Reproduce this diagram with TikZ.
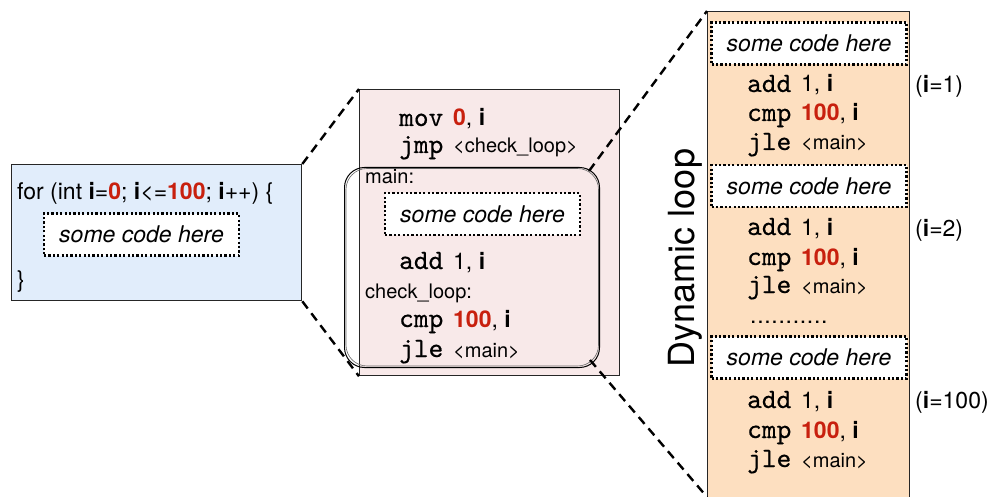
\documentclass[tikz,border=0pt]{standalone}
\usepackage{fontspec}
\setsansfont{TeX Gyre Heros}
\newfontfamily\mnemfont{lmmono10-regular}[Extension=.otf, FakeBold=0.5]
\usetikzlibrary{positioning}

\definecolor{srcblue}{RGB}{225,237,251}
\definecolor{asmpink}{RGB}{248,233,233}
\definecolor{dynpeach}{RGB}{253,223,192}
\definecolor{numred}{RGB}{200,32,14}

\newcommand{\bi}{\textbf{i}}
\newcommand{\rnum}[1]{\textcolor{numred}{\textbf{#1}}}
\newcommand{\mnem}[1]{{\fontsize{28}{30}\mnemfont #1}\hspace{3.5pt}}
\newcommand{\lbl}[1]{{\fontsize{20}{22}\selectfont #1}}
\newcommand{\dotrow}{\foreach \k in {1,...,11}{.\kern0.7pt}}

\begin{document}
\begin{tikzpicture}[%
      x=1pt, y=-1pt,
      every node/.style={font=\sffamily\fontsize{23}{27}\selectfont, inner sep=0pt},
      box/.style={draw=black!85, line width=1.3pt, anchor=north west},
      codebox/.style={draw, line width=2.2pt, dash pattern=on 2.2pt off 2.2pt, fill=white,
        minimum width=195pt, minimum height=42pt, font=\sffamily\itshape\fontsize{23}{27}\selectfont},
      line/.style={anchor=base west},
      zoomline/.style={line width=2.4pt, dash pattern=on 9pt off 6pt},
      ]
      \clip (0,0) rectangle (995,497);

      \node[box, fill=srcblue, minimum width=290pt, minimum height=136pt] (src) at (11,164) {};
      \node[box, fill=asmpink, minimum width=260pt, minimum height=286pt] (asm) at (359,89) {};
      \node[box, fill=dynpeach, minimum width=202pt, minimum height=510pt] (dyn) at (707,11) {};

      \node[draw, line width=1pt, rounded corners=20pt, anchor=north west,
        minimum width=255pt, minimum height=200pt] (loop) at (344,167) {};
      \draw[black!60, line width=0.6pt, rounded corners=21pt]
        ([shift={(2,1.5)}]loop.north west) rectangle ([shift={(-1.5,-2)}]loop.south east);

      \coordinate (loopTR) at (589,171);
      \coordinate (loopBR) at (590,360);
      \draw[zoomline] (src.north east) -- (asm.north west);
      \draw[zoomline] (src.south east) -- (asm.south west);
      \draw[zoomline] (loopTR) -- (dyn.north west);
      \draw[zoomline] (loopBR) -- (707,497);

      % source loop
      \node[line] (forline) at (17,200) {for (int \bi=\rnum{0}; \bi<=\rnum{100}; \bi++) \{};
      \node[codebox] (codeA) at (141.5,234.5) {some code here};
      \node[line] (close) at (17,287) {\}};

      % static assembly
      \node[line] (mov) at (399,126) {\mnem{mov} \rnum{0}, \bi};
      \node[line] (jmp) at (399,153) {\mnem{jmp} \lbl{<check\_loop>}};
      \node[line] (mainlbl) at (365,183) {\lbl{main:}};
      \node[codebox] (codeB) at (482.5,214) {some code here};
      \node[line] (addB) at (399,269) {\mnem{add} 1, \bi};
      \node[line] (checklbl) at (365,298) {\lbl{check\_loop:}};
      \node[line] (cmpB) at (399,327) {\mnem{cmp} \rnum{100}, \bi};
      \node[line] (jleB) at (399,357) {\mnem{jle} \lbl{<main>}};

      % dynamic loop
      \node[rotate=90, anchor=base, font=\sffamily\fontsize{36}{40}\selectfont] (dynlbl) at (694,258) {Dynamic loop};

      \node[codebox] (code1) at (809,43.5) {some code here};
      \node[line] (add1) at (747,92) {\mnem{add} 1, \bi};
      \node[line] (cmp1) at (747,121) {\mnem{cmp} \rnum{100}, \bi};
      \node[line] (jle1) at (747,150) {\mnem{jle} \lbl{<main>}};
      \node[line] (iter1) at (915,93) {(\bi=1)};

      \node[codebox] (code2) at (809,186) {some code here};
      \node[line] (add2) at (747,235) {\mnem{add} 1, \bi};
      \node[line] (cmp2) at (747,265) {\mnem{cmp} \rnum{100}, \bi};
      \node[line] (jle2) at (747,293) {\mnem{jle} \lbl{<main>}};
      \node[line] (iter2) at (915,236) {(\bi=2)};

      \node[line] (dots) at (750,323) {\dotrow};

      \node[codebox] (code3) at (809,357.5) {some code here};
      \node[line] (add3) at (747,408) {\mnem{add} 1, \bi};
      \node[line] (cmp3) at (747,438) {\mnem{cmp} \rnum{100}, \bi};
      \node[line] (jle3) at (747,467) {\mnem{jle} \lbl{<main>}};
      \node[line] (iter3) at (915,408) {(\bi=100)};
      \end{tikzpicture}
\end{document}
